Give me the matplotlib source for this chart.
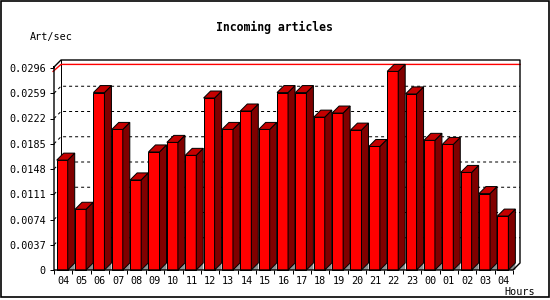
import matplotlib
matplotlib.use("Agg")
import matplotlib.pyplot as plt
from matplotlib.patches import Polygon, Rectangle
import numpy as np

# Hourly incoming article rate
hours = ["04", "05", "06", "07", "08", "09", "10", "11", "12", "13", "14", "15",
         "16", "17", "18", "19", "20", "21", "22", "23", "00", "01", "02", "03", "04"]
rate = [0.0161, 0.0089, 0.0260, 0.0206, 0.0132, 0.0173, 0.0187, 0.0168,
        0.0252, 0.0206, 0.0233, 0.0206, 0.0260, 0.0260, 0.0224, 0.0230,
        0.0205, 0.0181, 0.0291, 0.0258, 0.0190, 0.0184, 0.0143, 0.0112, 0.0079]
yticks = [0, 0.0037, 0.0074, 0.0111, 0.0148, 0.0185, 0.0222, 0.0259, 0.0296]

W, H = 550, 300
FRONT = "#ff0000"
SIDE = "#800000"
TOP = "#c40000"
LW = 0.72  # one pixel in points

fig = plt.figure(figsize=(W / 100, H / 100), dpi=100)
fig.patch.set_facecolor("white")

# front plane of the 3d box, in pixels: x 54..513, y 67..270
left, right, top, bottom = 54, 513, 67, 270
ax = fig.add_axes([left / W, 1 - bottom / H, (right - left) / W, (bottom - top) / H])
n = len(rate)
ymax = yticks[-1] * (bottom - top) / (bottom - 68)
ax.set_xlim(0, n)
ax.set_ylim(0, ymax)
ax.patch.set_visible(False)
for s in ax.spines.values():
    s.set_visible(False)

# depth of the 3d effect: 7 px right and up, in data units
depth = 7
dx = depth * n / (right - left)
dy = depth * ymax / (bottom - top)

mono = "DejaVu Sans Mono"

# dotted grid on the back wall
for t in yticks[1:-1]:
    ax.plot([0, dx, n + dx], [t, t + dy, t + dy], color="black", lw=LW,
            ls=(0, (3, 3)), zorder=1, clip_on=False)

# red line at the maximum value
m = max(rate)
ax.plot([-0.05, dx, n + dx], [m, m + dy, m + dy], color="red", lw=1.0,
        zorder=1.5, clip_on=False)

# box frame (back)
ax.plot([dx, dx], [dy, ymax + dy], color="black", lw=LW, zorder=1, clip_on=False)
ax.plot([0, dx, n + dx, n + dx, n, 0, 0],
        [ymax, ymax + dy, ymax + dy, dy, 0, 0, ymax],
        color="black", lw=1.0, zorder=5, clip_on=False)

# bars
off, bw = 0.147, 0.6
x0 = np.arange(n) + off
ax.bar(x0, rate, width=bw, align="edge", color=FRONT, edgecolor="black",
       linewidth=LW, zorder=3, clip_on=False)
for xi, v in zip(x0, rate):
    xr = xi + bw
    side = Polygon([(xr, 0), (xr + dx, dy), (xr + dx, v + dy), (xr, v)],
                   closed=True, facecolor=SIDE, edgecolor="black", lw=LW,
                   zorder=3, clip_on=False)
    topf = Polygon([(xi, v), (xr, v), (xr + dx, v + dy), (xi + dx, v + dy)],
                   closed=True, facecolor=TOP, edgecolor="black", lw=LW,
                   zorder=3, clip_on=False)
    floor = Polygon([(xr, 0), (xr + dx, dy), (xr + dx, 0)], closed=True,
                    facecolor="#909090", edgecolor="none", zorder=2.9,
                    clip_on=False)
    ax.add_patch(floor)
    ax.add_patch(side)
    ax.add_patch(topf)

# axis ticks and labels
ax.set_yticks(yticks)
ax.set_yticklabels(["0" if t == 0 else f"{t:.4f}" for t in yticks])
ax.tick_params(axis="y", direction="out", length=3, width=LW, pad=3,
               labelsize=7.3, colors="black")
ax.set_xticks(np.arange(n) + 0.5)
ax.set_xticklabels(hours)
ax.set_xticks(np.arange(n + 1), minor=True)
ax.tick_params(axis="x", which="major", length=0, pad=4, labelsize=7.3)
ax.tick_params(axis="x", which="minor", direction="out", length=3, width=LW)
for lab in ax.get_xticklabels() + ax.get_yticklabels():
    lab.set_family(mono)

# titles
fig.text(274 / W, 1 - 27 / H, "Incoming articles", ha="center", va="center",
         family=mono, weight="bold", size=8.3)
fig.text(30 / W, 1 - 37 / H, "Art/sec", ha="left", va="center", family=mono, size=7.3)
fig.text(504 / W, 1 - 292 / H, "Hours", ha="left", va="center", family=mono, size=7.3)

# outer border
fig.patches.append(Rectangle((1 / W, 1 - 297 / H), 548 / W, 296.5 / H,
                             transform=fig.transFigure, fill=False,
                             edgecolor="black", lw=1.2))

fig.savefig("out.png", dpi=100)
